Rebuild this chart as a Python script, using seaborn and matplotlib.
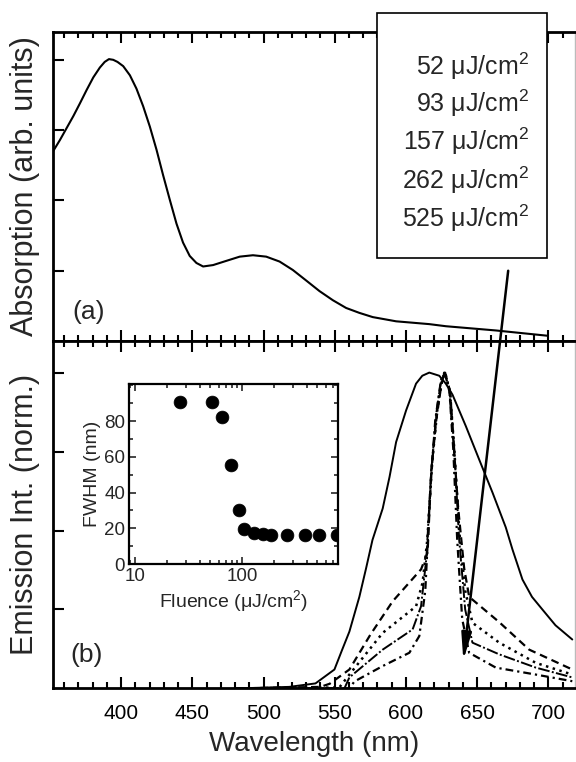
import matplotlib
matplotlib.use("Agg")
import matplotlib.pyplot as plt
import seaborn as sns
from matplotlib.patches import Rectangle, FancyArrowPatch
from matplotlib.ticker import MultipleLocator, FixedLocator, LogLocator, NullFormatter, FixedFormatter

sns.set_theme(style="ticks")
plt.rcParams["font.family"] = ["Liberation Sans", "DejaVu Sans"]
plt.rcParams["mathtext.default"] = "regular"

# ---------------- data ----------------
# (a) absorption spectrum (arb. units)
abs_wl = [352.0, 357.1, 361.8, 366.5, 371.1, 375.8, 380.5, 385.1, 388.5, 391.5, 394.5,
          397.5, 401.5, 406.2, 410.8, 415.5, 420.2, 424.9, 429.5, 434.2, 438.9, 443.5,
          448.2, 452.9, 457.6, 464.6, 473.9, 483.3, 492.6, 501.9, 511.3, 520.6, 530.0,
          539.3, 548.7, 558.0, 567.3, 576.7, 593.1, 616.4, 628.1, 663.1, 699.3]
abs_val = [2.69, 2.86, 3.03, 3.20, 3.38, 3.57, 3.75, 3.89, 3.97, 4.01, 4.00,
           3.97, 3.91, 3.78, 3.59, 3.34, 3.05, 2.72, 2.36, 2.01, 1.67, 1.40,
           1.21, 1.11, 1.06, 1.08, 1.14, 1.20, 1.22, 1.20, 1.13, 1.01, 0.86,
           0.71, 0.58, 0.47, 0.40, 0.34, 0.28, 0.24, 0.21, 0.15, 0.075]

# (b) normalised emission spectra for each pump fluence
em_wl_52 = [480, 518, 536.5, 549.8, 555.0, 560.3, 567.3, 572.0, 576.5, 583.7, 588.5,
            593.1, 600.1, 607.1, 611.5, 616.4, 623.4, 628.0, 632.7, 642.1, 651.4,
            660.8, 670.1, 674.8, 681.8, 688.5, 695.8, 705.0, 716.8]
em_int_52 = [0.0, 0.005, 0.016, 0.06, 0.12, 0.18, 0.29, 0.38, 0.47, 0.57, 0.67,
             0.78, 0.88, 0.965, 0.99, 1.0, 0.99, 0.965, 0.93, 0.83, 0.725,
             0.62, 0.51, 0.44, 0.345, 0.29, 0.25, 0.2, 0.155]

em_wl_93 = [480, 540, 546.5, 560.3, 575.0, 590.7, 610.6, 615.2, 617.8, 621.3, 624.8,
            626.9, 630.4, 633.2, 636.7, 640.9, 644.4, 665.5, 686.5, 716.8]
em_int_93 = [0.0, 0.005, 0.015, 0.06, 0.17, 0.276, 0.377, 0.43, 0.69, 0.85, 0.96,
             1.0, 0.95, 0.79, 0.57, 0.38, 0.29, 0.21, 0.123, 0.06]

em_wl_157 = [480, 553.2, 560.3, 583.7, 607.1, 611.7, 615.0, 618.5, 622.0, 625.5,
             627.6, 631.1, 633.9, 637.4, 641.6, 646.7, 665.5, 691.2, 716.8]
em_int_157 = [0.0, 0.003, 0.044, 0.176, 0.26, 0.335, 0.47, 0.72, 0.88, 0.98,
              1.0, 0.93, 0.76, 0.5, 0.31, 0.208, 0.145, 0.081, 0.044]

em_wl_262 = [480, 556.8, 560.3, 583.7, 604.7, 610.6, 614.3, 617.8, 621.3, 624.8,
             627.6, 631.1, 633.9, 637.4, 641.6, 646.7, 665.5, 691.2, 716.8]
em_int_262 = [0.0, 0.0, 0.035, 0.123, 0.187, 0.26, 0.41, 0.69, 0.87, 0.98,
              1.0, 0.94, 0.76, 0.47, 0.25, 0.145, 0.108, 0.066, 0.035]

em_wl_525 = [480, 560.3, 563.8, 583.7, 602.4, 609.4, 613.6, 617.1, 620.6, 624.1,
             626.9, 630.4, 633.2, 636.0, 639.5, 644.4, 663.1, 691.2, 716.8]
em_int_525 = [0.0, 0.0, 0.022, 0.071, 0.113, 0.166, 0.31, 0.63, 0.85, 0.96,
              1.0, 0.95, 0.76, 0.47, 0.22, 0.113, 0.066, 0.044, 0.023]

fluence_labels = ["52", "93", "157", "262", "525"]

# inset: FWHM vs pump fluence
fluence = [26, 52, 65, 78, 93, 104, 129, 157, 185, 262, 390, 525, 765]
fwhm = [91, 90.5, 82.5, 55.5, 30, 19.5, 17.5, 17, 16, 16.5, 16.5, 16.5, 16.5]

wl_ticks = [400, 450, 500, 550, 600, 650, 700]
fwhm_ticks = [0, 20, 40, 60, 80]

# ---------------- figure ----------------
fig = plt.figure(figsize=(5.76, 7.62), dpi=100)
ax_a = fig.add_axes([0.0915, 0.5525, 0.9075, 0.4059])
ax_b = fig.add_axes([0.0915, 0.0965, 0.9075, 0.4560])

sns.lineplot(x=abs_wl, y=abs_val, ax=ax_a, color="black", lw=1.5)

styles = [("-", 1.4), ((0, (3.5, 2.2)), 1.6), ((0, (1, 1.8)), 1.8),
          ((0, (6, 1.2, 1, 1.2)), 1.4), ((0, (3.5, 1.8, 1, 1.8)), 1.6)]
series = [(em_wl_52, em_int_52), (em_wl_93, em_int_93), (em_wl_157, em_int_157),
          (em_wl_262, em_int_262), (em_wl_525, em_int_525)]
for (wl, val), (ls, lw) in zip(series, styles):
    sns.lineplot(x=wl, y=val, ax=ax_b, color="black", linestyle=ls, lw=lw)

for ax in (ax_a, ax_b):
    ax.set_xlim(352, 719)
    ax.xaxis.set_major_locator(FixedLocator(wl_ticks))
    ax.xaxis.set_minor_locator(MultipleLocator(10))
    ax.tick_params(axis="both", which="both", direction="in", width=1.5, colors="black")
    ax.tick_params(axis="both", which="major", length=8)
    ax.tick_params(axis="both", which="minor", length=4)
    ax.tick_params(axis="x", which="both", top=True, bottom=True)
    ax.tick_params(axis="y", which="both", left=True, right=False, labelleft=False)
    for side in ("left", "top", "bottom"):
        ax.spines[side].set_linewidth(2.0)
        ax.spines[side].set_color("black")
    ax.spines["right"].set_linewidth(1.0)
    ax.spines["right"].set_color("#bbbbbb")

ax_a.set_ylim(0, 4.4)
ax_a.yaxis.set_major_locator(FixedLocator([1, 2, 3, 4]))
ax_a.tick_params(axis="x", labelbottom=False)
ax_a.set_xlabel("")
ax_a.set_ylabel("Absorption (arb. units)", fontsize=22, labelpad=9)
ax_a.text(0.0695, 0.094, "(a)", transform=ax_a.transAxes, fontsize=19,
          ha="center", va="center")

ax_b.set_ylim(0, 1.1)
ax_b.yaxis.set_major_locator(FixedLocator([0.25, 0.5, 0.75, 1.0]))
ax_b.tick_params(axis="x", which="major", labelsize=15, pad=11)
ax_b.set_xlabel("Wavelength (nm)", fontsize=20, labelpad=6)
ax_b.set_ylabel("Emission Int. (norm.)", fontsize=22, labelpad=9)
ax_b.text(0.0647, 0.096, "(b)", transform=ax_b.transAxes, fontsize=19,
          ha="center", va="center")

# inset
ax_in = fig.add_axes([0.2245, 0.2598, 0.3628, 0.2362])
sns.scatterplot(x=fluence, y=fwhm, ax=ax_in, color="black", s=85,
                edgecolor="black", linewidth=0.5, zorder=3)
ax_in.set_xscale("log")
ax_in.set_xlim(8.8, 790)
ax_in.set_ylim(0, 100.8)
ax_in.xaxis.set_major_locator(FixedLocator([10, 100]))
ax_in.xaxis.set_major_formatter(FixedFormatter(["10", "100"]))
ax_in.xaxis.set_minor_locator(LogLocator(base=10, subs=range(2, 10)))
ax_in.xaxis.set_minor_formatter(NullFormatter())
ax_in.yaxis.set_major_locator(FixedLocator(fwhm_ticks))
ax_in.yaxis.set_minor_locator(MultipleLocator(10))
ax_in.tick_params(axis="both", which="both", direction="in", top=True, right=True,
                  width=1.2, labelsize=13.5, pad=3)
ax_in.tick_params(axis="both", which="major", length=5)
ax_in.tick_params(axis="both", which="minor", length=3)
for side in ax_in.spines.values():
    side.set_linewidth(1.6)
    side.set_color("black")
ax_in.set_xlabel("Fluence (\u03bcJ/cm$^{2}$)", fontsize=14, labelpad=2)
ax_in.set_ylabel("FWHM (nm)", fontsize=14, labelpad=2)

# fluence box (sits over the top right of panel (a))
fig.patches.append(Rectangle((0.655, 0.661), 0.294, 0.3223, transform=fig.transFigure,
                             facecolor="white", edgecolor="black", lw=1.2, zorder=5))
label_y = [66.7, 103.3, 141.7, 180.0, 218.3]
for lab, yp in zip(fluence_labels, label_y):
    fig.text(0.9185, 1 - yp / 762, f"{lab} \u03bcJ/cm$^{{2}}$", fontsize=18,
             ha="right", va="center", zorder=6)

# arrow showing increasing fluence
fig.add_artist(FancyArrowPatch((508.5 / 576, 1 - 268 / 762), (463 / 576, 1 - 663 / 762),
                               transform=fig.transFigure,
                               arrowstyle="-|>,head_length=1.6,head_width=0.3",
                               mutation_scale=10, lw=1.8, color="black", zorder=7))

fig.savefig("out.png", dpi=100)
plt.close(fig)
